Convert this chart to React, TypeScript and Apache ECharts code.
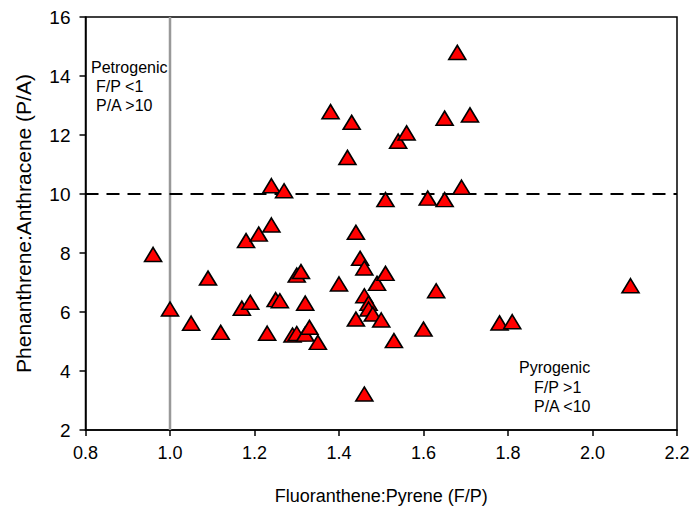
import React, { useEffect, useRef } from "react";
import * as echarts from "echarts";

// F/P ratio (x) and P/A ratio (y) for each sample
const fpValues = [
  0.96, 1.0, 1.05, 1.09, 1.12, 1.17, 1.18, 1.19, 1.21, 1.23, 1.24, 1.24, 1.25, 1.26,
  1.27, 1.29, 1.3, 1.3, 1.31, 1.32, 1.32, 1.33, 1.35, 1.38, 1.4, 1.42, 1.43, 1.44,
  1.44, 1.45, 1.46, 1.46, 1.46, 1.47, 1.47, 1.48, 1.49, 1.5, 1.51, 1.51, 1.53, 1.54,
  1.56, 1.6, 1.61, 1.63, 1.65, 1.65, 1.68, 1.69, 1.71, 1.78, 1.81, 2.09,
];
const paValues = [
  7.95, 6.1, 5.62, 7.15, 5.31, 6.13, 8.42, 6.33, 8.64, 5.28, 8.95, 10.28, 6.42, 6.38,
  10.11, 5.22, 5.27, 7.25, 7.37, 6.3, 5.25, 5.48, 4.97, 12.79, 6.95, 11.24, 12.43, 8.7,
  5.76, 7.82, 7.49, 3.22, 6.55, 6.3, 6.1, 5.93, 6.97, 5.73, 7.31, 9.81, 5.03, 11.79,
  12.07, 5.42, 9.86, 6.72, 9.81, 12.57, 14.8, 10.23, 12.68, 5.63, 5.67, 6.89,
];

const xTicks = { min: 0.8, max: 2.2, interval: 0.2 };
const yTicks = { min: 2, max: 16, interval: 2 };
const fpThreshold = 1.0;
const paThreshold = 10;

const petroLines = ["Petrogenic", "F/P <1", "P/A >10"];
const pyroLines = ["Pyrogenic", "F/P >1", "P/A <10"];

const FONT = '"Liberation Sans", Arial, sans-serif';

export default function App() {
  const ref = useRef<HTMLDivElement>(null);

  useEffect(() => {
    if (!ref.current) return;
    const chart = echarts.init(ref.current, undefined, { renderer: "svg" });

    const scatterData = fpValues.map((x, i) => [x, paValues[i]]);

    const textEl = (text: string, x: number, y: number) => ({
      type: "text",
      x,
      y,
      silent: true,
      z: 100,
      style: {
        text,
        fill: "#000",
        font: `16px ${FONT}`,
        align: "left",
        verticalAlign: "middle",
      },
    });

    chart.setOption({
      animation: false,
      backgroundColor: "#fff",
      textStyle: { fontFamily: FONT },
      grid: {
        left: 85.5,
        right: 16,
        top: 17,
        bottom: 79,
        show: true,
        borderColor: "#000",
        borderWidth: 1.5,
        backgroundColor: "transparent",
      },
      xAxis: {
        type: "value",
        min: xTicks.min,
        max: xTicks.max,
        interval: xTicks.interval,
        name: "Fluoranthene:Pyrene (F/P)",
        nameLocation: "middle",
        nameGap: 57,
        nameTextStyle: { fontSize: 18, color: "#000", fontFamily: FONT },
        axisLine: { show: true, onZero: false, lineStyle: { color: "#000", width: 1.5 } },
        axisTick: { show: true, inside: false, length: 6, lineStyle: { color: "#000", width: 1.5 } },
        axisLabel: {
          color: "#000",
          fontSize: 18,
          fontFamily: FONT,
          margin: 14,
          formatter: (v: number) => v.toFixed(1),
        },
        splitLine: { show: false },
      },
      yAxis: {
        type: "value",
        min: yTicks.min,
        max: yTicks.max,
        interval: yTicks.interval,
        name: "Phenanthrene:Anthracene (P/A)",
        nameLocation: "middle",
        nameGap: 52,
        nameRotate: 90,
        nameTextStyle: { fontSize: 21, color: "#000", fontFamily: FONT },
        axisLine: { show: true, onZero: false, lineStyle: { color: "#000", width: 1.5 } },
        axisTick: { show: true, inside: false, length: 6, lineStyle: { color: "#000", width: 1.5 } },
        axisLabel: { color: "#000", fontSize: 19, fontFamily: FONT, margin: 15 },
        splitLine: { show: false },
      },
      series: [
        {
          type: "line",
          data: [
            [fpThreshold, yTicks.min],
            [fpThreshold, yTicks.max],
          ],
          symbol: "none",
          silent: true,
          z: 1,
          lineStyle: { color: "#999", width: 2.5, type: "solid" },
        },
        {
          type: "line",
          data: [
            [xTicks.min, paThreshold],
            [xTicks.max, paThreshold],
          ],
          symbol: "none",
          silent: true,
          z: 1,
          lineStyle: { color: "#000", width: 2, type: [13, 8] },
        },
        {
          type: "scatter",
          data: scatterData,
          symbol: "triangle",
          symbolSize: [17, 14],
          z: 5,
          itemStyle: { color: "#ff0000", borderColor: "#000", borderWidth: 1.6, opacity: 1 },
        },
      ],
      graphic: [
        textEl(petroLines[0], 91, 67),
        textEl(petroLines[1], 96, 86),
        textEl(petroLines[2], 96, 105),
        textEl(pyroLines[0], 519, 367),
        textEl(pyroLines[1], 534, 387),
        textEl(pyroLines[2], 534, 406),
      ],
    });

    return () => chart.dispose();
  }, []);

  return (
    <div
      ref={ref}
      style={{ position: "fixed", left: 0, top: 0, width: 693, height: 510, background: "#fff" }}
    />
  );
}
